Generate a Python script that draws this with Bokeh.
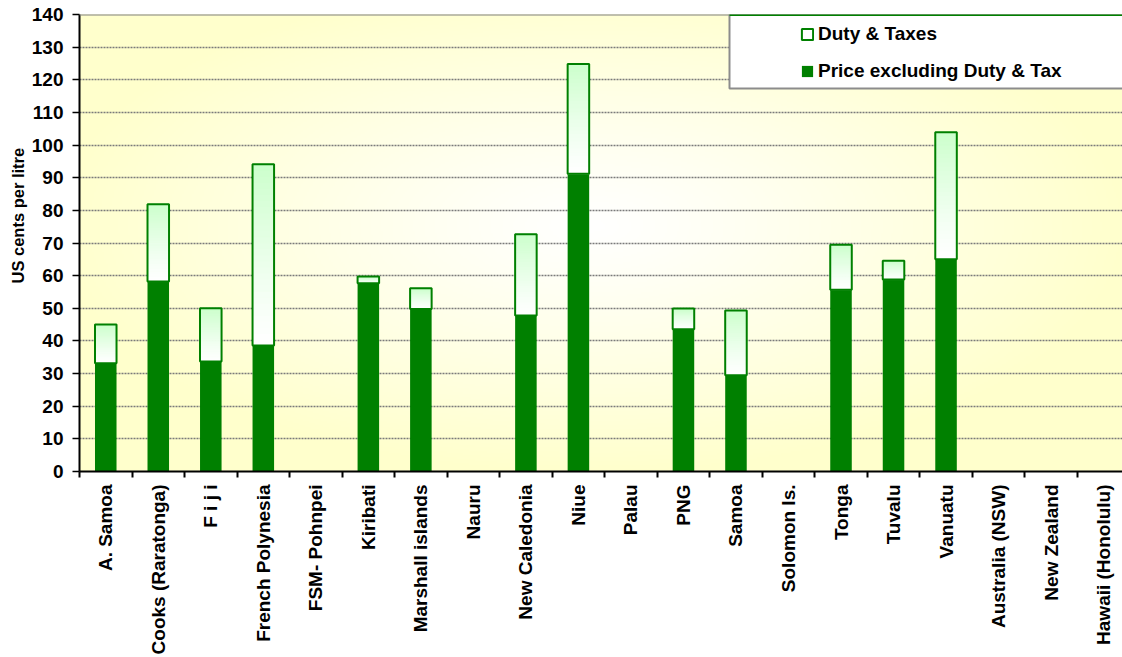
import numpy as np
from bokeh.plotting import figure
from bokeh.models import (Range1d, FixedTicker, CustomJSTickFormatter, ColumnDataSource,
                          Legend, LegendItem, BoxAnnotation, Span, Title)
from bokeh.embed import file_html
from bokeh.resources import INLINE

# Pump prices (US cents per litre)
categories = ["A. Samoa", "Cooks (Raratonga)", "F i j i", "French Polynesia", "FSM- Pohnpei",
              "Kiribati", "Marshall islands", "Nauru", "New Caledonia", "Niue", "Palau", "PNG",
              "Samoa", "Solomon Is.", "Tonga", "Tuvalu", "Vanuatu", "Australia (NSW)",
              "New Zealand", "Hawaii (Honolulu)"]
price_excl_duty = [33.2, 58.2, 33.7, 38.6, None, 57.7, 49.8, None, 47.8, 91.2, None, 43.6,
                   29.5, None, 55.7, 58.8, 65.0, None, None, None]
duty_taxes = [11.8, 23.7, 16.3, 55.5, None, 2.0, 6.3, None, 24.9, 33.6, None, 6.3,
              19.8, None, 13.8, 5.8, 38.9, None, None, None]
y_ticks = list(range(0, 141, 10))

GREEN = "#008000"
FONT = "Liberation Sans"
BAR_W = 0.41

n = len(categories)
x_end = 19.86
y_end = 140

p = figure(width=1122, height=657, x_range=Range1d(0, x_end), y_range=Range1d(0, y_end),
           output_backend="svg", toolbar_location=None,
           min_border_left=79, min_border_right=0, min_border_top=14, min_border_bottom=186,
           background_fill_color="#ffffcc", border_fill_color="white", outline_line_color=None)

# soft yellow-to-white radial backdrop
H, W = 230, 520
yy, xx = np.mgrid[0:H, 0:W]
px = 79 + (xx + 0.5) / W * 1043
py = 471 - (yy + 0.5) / H * 457
t = np.clip(np.sqrt(((px - 590) / 540) ** 2 + ((py - 225) / 250) ** 2), 0, 1) ** 1.1
img = np.empty((H, W), dtype=np.uint32)
view = img.view(dtype=np.uint8).reshape((H, W, 4))
view[..., 0] = 255
view[..., 1] = 255
view[..., 2] = (255 - t * (255 - 204)).astype(np.uint8)
view[..., 3] = 255
p.image_rgba(image=[img], x=0, y=0, dw=x_end, dh=y_end, level="image")

# bars
xc = np.arange(n) + 0.5
base = np.array([np.nan if v is None else v for v in price_excl_duty], dtype=float)
duty = np.array([np.nan if v is None else v for v in duty_taxes], dtype=float)
has = ~np.isnan(base)

base_src = ColumnDataSource(dict(x=xc[has], top=base[has]))
base_r = p.vbar(x="x", top="top", bottom=0, width=BAR_W, source=base_src,
                fill_color=GREEN, line_color=None)

# duty portion: vertical gradient from white (bottom) to pale green (top)
N = 30
sx, sb, st, sc = [], [], [], []
for xi, b, d in zip(xc[has], base[has], duty[has]):
    for k in range(N):
        sx.append(xi)
        sb.append(b + d * k / N)
        st.append(b + d * (k + 1) / N)
        tc = ((k + 0.5) / N) ** 1.2
        rb = int(round(255 - (255 - 204) * tc))
        sc.append(f"#{rb:02x}ff{rb:02x}")
slice_src = ColumnDataSource(dict(x=sx, bottom=sb, top=st, c=sc))
p.vbar(x="x", bottom="bottom", top="top", width=BAR_W, source=slice_src,
       fill_color="c", line_color="c", line_width=1)

duty_src = ColumnDataSource(dict(x=xc[has], bottom=base[has], top=base[has] + duty[has]))
duty_r = p.vbar(x="x", bottom="bottom", top="top", width=BAR_W, source=duty_src,
                fill_color=None, line_color=GREEN, line_width=2)

# axes
p.yaxis.ticker = FixedTicker(ticks=y_ticks)
p.yaxis.axis_line_width = 2
p.yaxis.axis_line_color = "black"
p.yaxis.major_tick_out = 7
p.yaxis.major_tick_in = 0
p.yaxis.major_tick_line_width = 1.5
p.yaxis.minor_tick_line_color = None
p.yaxis.major_label_standoff = 9
p.yaxis.major_label_text_font = FONT
p.yaxis.major_label_text_font_style = "bold"
p.yaxis.major_label_text_font_size = "19px"
p.yaxis.major_label_text_color = "black"

p.xaxis.ticker = FixedTicker(ticks=list(xc), minor_ticks=list(range(n + 1)))
p.xaxis.formatter = CustomJSTickFormatter(args=dict(names=categories),
                                          code="return names[Math.floor(tick)]")
p.xaxis.major_label_orientation = np.pi / 2
p.xaxis.axis_line_width = 2
p.xaxis.axis_line_color = "black"
p.xaxis.major_tick_line_color = None
p.xaxis.major_tick_out = 6
p.xaxis.major_tick_in = 0
p.xaxis.minor_tick_out = 6
p.xaxis.minor_tick_in = 0
p.xaxis.minor_tick_line_color = "black"
p.xaxis.minor_tick_line_width = 2
p.xaxis.major_label_standoff = 7
p.xaxis.major_label_text_font = FONT
p.xaxis.major_label_text_font_style = "bold"
p.xaxis.major_label_text_font_size = "19px"
p.xaxis.major_label_text_color = "black"

p.xgrid.grid_line_color = None
p.ygrid.grid_line_color = "#7a7a7a"
p.ygrid.grid_line_dash = "2 1"
p.ygrid.grid_line_width = 1.5

# top border of the plotting area
p.add_layout(Span(location=y_end, dimension="width", line_color="#808080", line_width=2))

# y axis title
p.add_layout(Title(text="US cents per litre", align="left", offset=188, standoff=4,
                   text_font=FONT, text_font_style="bold", text_font_size="16.5px",
                   text_color="black"), "left")

# legend box
p.add_layout(BoxAnnotation(left=729, right=1140, top=14, bottom=88,
                           left_units="canvas", right_units="canvas",
                           top_units="canvas", bottom_units="canvas",
                           fill_color="white", fill_alpha=1,
                           line_color="#8c8c8c", line_width=2, line_alpha=1))
p.add_layout(BoxAnnotation(left=729, right=1140, top=13, bottom=15.5,
                           left_units="canvas", right_units="canvas",
                           top_units="canvas", bottom_units="canvas",
                           fill_color=GREEN, fill_alpha=1, line_color=None))

legend = Legend(items=[LegendItem(label="Duty & Taxes", renderers=[duty_r]),
                       LegendItem(label="Price excluding Duty & Tax", renderers=[base_r])],
                location=(721, 389.5), padding=0, margin=0, spacing=15,
                glyph_width=14, glyph_height=14, label_height=22, label_standoff=4,
                label_text_font=FONT, label_text_font_style="bold",
                label_text_font_size="19px", label_text_color="black",
                background_fill_alpha=0, border_line_color=None)
p.add_layout(legend)

open("out.html", "w").write(file_html(p, INLINE))
